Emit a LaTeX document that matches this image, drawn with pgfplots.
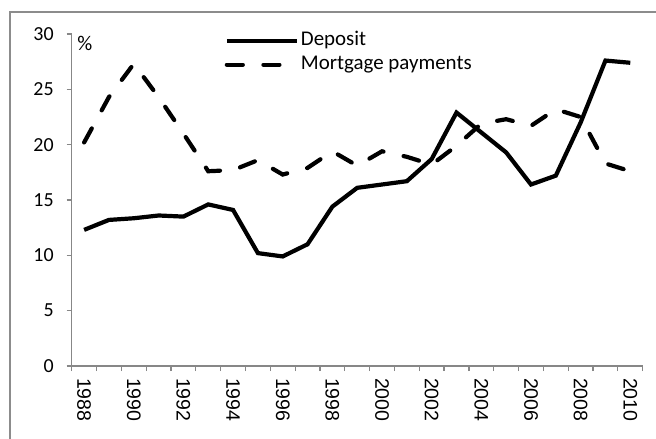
\documentclass[border=0pt]{standalone}
\usepackage{fontspec}
\setmainfont{Carlito}
\newfontfamily\arialf{Liberation Sans}
\usepackage{pgfplots}
\pgfplotsset{compat=1.18}
\definecolor{axgray}{gray}{0.53}
\definecolor{framegray}{gray}{0.55}
\begin{document}
\begin{tikzpicture}[x=1bp,y=1bp]
\begin{axis}[
  at={(35.85bp,36.5bp)}, anchor=south west,
  scale only axis, width=285.5bp, height=166bp,
  xmin=-0.5, xmax=22.5, ymin=0, ymax=30,
  axis x line*=bottom, axis y line*=left,
  axis line style={draw=axgray, line width=0.6bp},
  ytick={0,5,...,30},
  xtick={0,2,...,22},
  xticklabels={1988,1990,1992,1994,1996,1998,2000,2002,2004,2006,2008,2010},
  minor xtick={-0.5,0.5,...,22.5},
  tick align=outside,
  major tick length=2.5bp, minor tick length=2.5bp,
  every tick/.style={draw=axgray, line width=0.6bp},
  major x tick style={draw=none},
  /pgf/number format/assume math mode=true,
  yticklabel style={font=\fontsize{10}{12}\selectfont, xshift=-3bp},
  xticklabel style={font=\arialf\fontsize{9.8}{12}\selectfont, rotate=-90, anchor=west},
  legend style={draw=none, fill=none, inner sep=0pt, outer sep=0pt,
    at={(rel axis cs:0.268,1.016)}, anchor=north west,
    font=\fontsize{10.5}{12}\selectfont,
    nodes={inner sep=1bp, text height=7.5bp, text depth=2.5bp},
    row sep=0pt, column sep=0pt},
  legend cell align=left,
  legend image code/.code={\draw[#1] (0bp,0bp) -- (35bp,0bp);},
]
\addplot[black, line width=2.1bp] coordinates {
(0,12.3) (1,13.2) (2,13.35) (3,13.6) (4,13.5) (5,14.6) (6,14.1) (7,10.2) (8,9.9) (9,11.0) (10,14.4) (11,16.1) (12,16.4) (13,16.7) (14,18.7) (15,22.9) (16,21.1) (17,19.3) (18,16.4) (19,17.2) (20,22.0) (21,27.6) (22,27.4)};
\addlegendentry{Deposit}
\addplot[black, line width=2.1bp, dash pattern=on 8bp off 10.3bp, line cap=round] coordinates {
(0,20.2) (1,24.3) (2,27.3) (3,24.3) (4,21.0) (5,17.6) (6,17.7) (7,18.6) (8,17.3) (9,17.9) (10,19.4) (11,18.1) (12,19.4) (13,18.9) (14,18.2) (15,19.9) (16,21.9) (17,22.3) (18,21.7) (19,23.2) (20,22.5) (21,18.3) (22,17.6)};
\addlegendentry{Mortgage payments}
\node[anchor=north west, inner sep=0pt, xshift=2.6bp, yshift=-1bp, font=\fontsize{10.5}{12}\selectfont] at (rel axis cs:0,1) {\%};
\end{axis}
\draw[framegray, line width=1bp] (5,-10) -- (5,213.35) -- (340,213.35);
\pgfresetboundingbox
\useasboundingbox (0,0) rectangle (328,219.5);
\end{tikzpicture}
\end{document}
